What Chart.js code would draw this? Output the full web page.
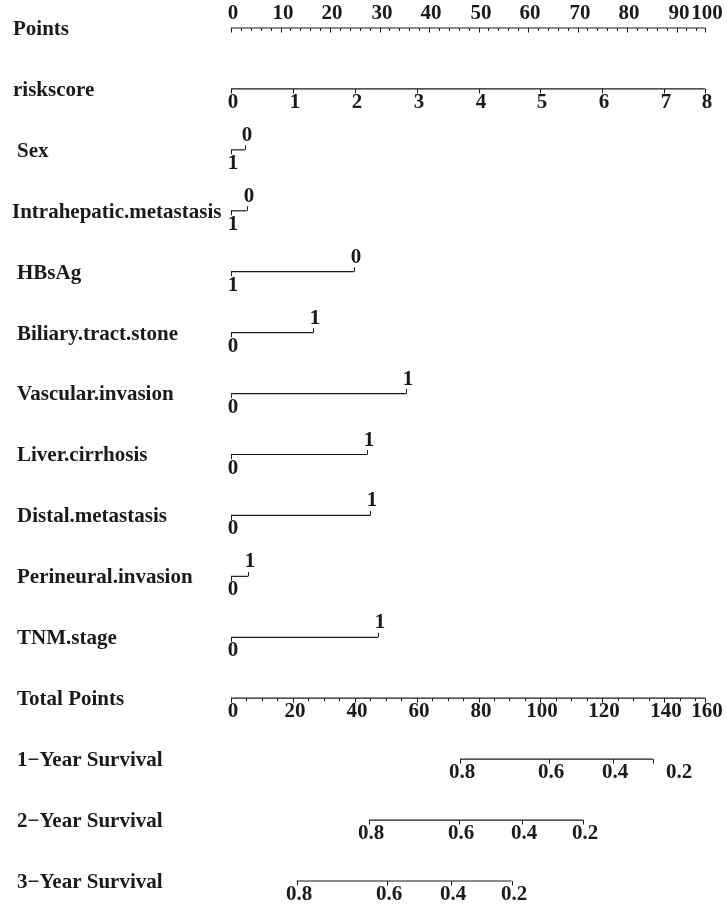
<!DOCTYPE html>
<html>
<head>
<meta charset="utf-8">
<script src="https://cdn.jsdelivr.net/npm/chart.js@4"></script>
<style>
  body { margin: 0; background: #fff; }
  #wrap { width: 727px; height: 908px; position: relative; }
</style>
</head>
<body>
<div id="wrap"><canvas id="nomogram"></canvas></div>
<script>
// rows, top to bottom
const rowNames = ['Points', 'riskscore', 'Sex', 'Intrahepatic.metastasis', 'HBsAg',
  'Biliary.tract.stone', 'Vascular.invasion', 'Liver.cirrhosis', 'Distal.metastasis',
  'Perineural.invasion', 'TNM.stage', 'Total Points',
  '1\u2212Year Survival', '2\u2212Year Survival', '3\u2212Year Survival']

// Points scale (x axis, 0-100)
const pointsLabels = ['0', '10', '20', '30', '40', '50', '60', '70', '80', '90', '100']
const pointsAt = [0, 10, 20, 30, 40, 50, 60, 70, 80, 90, 95.8]

// riskscore, in points
const riskLabels = ['0', '1', '2', '3', '4', '5', '6', '7', '8']
const riskAt = [0, 12.5, 25, 37.5, 50, 62.5, 75, 87.5, 95.8]

// categorical factors: level at 0 points, other level, points of the other level
const factorLow = ['1', '1', '1', '0', '0', '0', '0', '0', '0']
const factorHigh = ['0', '0', '0', '1', '1', '1', '1', '1', '1']
const factorPoints = [2.8, 3.2, 24.8, 16.6, 35.4, 27.5, 28.1, 3.4, 29.7]

// Total points scale (second x axis, 0-160)
const totalLabels = ['0', '20', '40', '60', '80', '100', '120', '140', '160']
const totalAt = [0, 20, 40, 60, 80, 100, 120, 140, 153.3]

// survival probabilities, positions in total points
const survLabels = ['0.8', '0.6', '0.4', '0.2']
const surv1At = [74.0, 102.9, 123.6, 144.2]
const surv2At = [44.7, 73.7, 94.0, 113.9]
const surv3At = [21.2, 50.5, 71.0, 90.7]
const surv1End = 136.4  // 1-year line stops short of its 0.2 label

const range = (a, b, step) => {
  const out = []
  for (let v = a; v <= b + 1e-9; v += step) out.push(v)
  return out
}

const FONT = 'bold 21px "Liberation Serif", "Times New Roman", serif'
const INK = '#1a1a1a'
const labelLeft = [13, 13, 17, 12, 17, 17, 17, 17, 17, 17, 17, 17, 17, 17, 17]

const seg = (x0, x1, row, axis) => ({
  data: [{ x: x0, y: row }, { x: x1, y: row }],
  xAxisID: axis,
  showLine: true,
  borderColor: INK,
  borderWidth: 1.2,
  pointRadius: 0,
  clip: false,
})

const datasets = [
  seg(0, pointsAt[pointsAt.length - 1], 0, 'x'),
  seg(0, riskAt[riskAt.length - 1], 1, 'x'),
  ...factorPoints.map((p, i) => seg(0, p, i + 2, 'x')),
  seg(0, totalAt[totalAt.length - 1], 11, 'xTotal'),
  seg(surv1At[0], surv1End, 12, 'xTotal'),
  seg(surv2At[0], surv2At[3], 13, 'xTotal'),
  seg(surv3At[0], surv3At[3], 14, 'xTotal'),
]

const nomogramPlugin = {
  id: 'nomogram',
  afterDatasetsDraw (chart) {
    const ctx = chart.ctx
    const xs = chart.scales.x
    const xt = chart.scales.xTotal
    const ys = chart.scales.y
    const rowY = r => ys.getPixelForValue(r)
    const px = v => Math.round(xs.getPixelForValue(v)) + 0.5
    const pt = v => Math.round(xt.getPixelForValue(v)) + 0.5

    ctx.save()
    ctx.strokeStyle = INK
    ctx.fillStyle = INK
    ctx.lineWidth = 1
    ctx.font = FONT

    const tick = (x, y, len) => {
      ctx.beginPath()
      ctx.moveTo(x, y)
      ctx.lineTo(x, y + len)
      ctx.stroke()
    }
    const label = (text, x, y, above) => {
      ctx.textAlign = 'center'
      ctx.textBaseline = 'alphabetic'
      ctx.fillText(text, x + 1.5, above ? y - 9 : y + 19)
    }

    // row names
    ctx.textAlign = 'left'
    ctx.textBaseline = 'middle'
    rowNames.forEach((name, r) => {
      ctx.fillText(name, labelLeft[r], rowY(r) + 1.5)
    })

    // Points
    let y = rowY(0)
    range(0, 94, 2).forEach(v => tick(px(v), y, 3))
    pointsAt.forEach((v, i) => {
      tick(px(v), y, 4.5)
      label(pointsLabels[i], px(v), y, true)
    })

    // riskscore
    y = rowY(1)
    riskAt.forEach((v, i) => {
      tick(px(v), y, 4.5)
      label(riskLabels[i], px(v), y, false)
    })

    // factors
    factorPoints.forEach((p, i) => {
      const yy = rowY(i + 2)
      tick(px(0), yy, 4.5)
      tick(px(p), yy, -4.5)
      label(factorLow[i], px(0), yy, false)
      label(factorHigh[i], px(p), yy, true)
    })

    // Total Points
    y = rowY(11)
    range(0, 150, 5).forEach(v => tick(pt(v), y, 3))
    totalAt.forEach((v, i) => {
      tick(pt(v), y, 4.5)
      label(totalLabels[i], pt(v), y, false)
    })

    // survival
    y = rowY(12)
    surv1At.forEach((v, i) => {
      if (i < 3) tick(pt(v), y, 4.5)
      label(survLabels[i], pt(v), y, false)
    })
    tick(pt(surv1End), y, 4.5)
    ;[surv2At, surv3At].forEach((arr, k) => {
      const yy = rowY(13 + k)
      arr.forEach((v, i) => {
        tick(pt(v), yy, 4.5)
        label(survLabels[i], pt(v), yy, false)
      })
    })

    ctx.restore()
  }
}

new Chart(document.getElementById('nomogram'), {
  type: 'scatter',
  data: { datasets },
  options: {
    responsive: true,
    maintainAspectRatio: false,
    animation: false,
    layout: { padding: { left: 231, right: 1, top: 28, bottom: 27 } },
    plugins: { legend: { display: false }, tooltip: { enabled: false } },
    scales: {
      x: { type: 'linear', min: 0, max: 100, display: false },
      xTotal: { type: 'linear', min: 0, max: 160, display: false },
      y: { type: 'linear', min: 0, max: 14, reverse: true, display: false },
    },
  },
  plugins: [nomogramPlugin],
})
</script>
</body>
</html>
